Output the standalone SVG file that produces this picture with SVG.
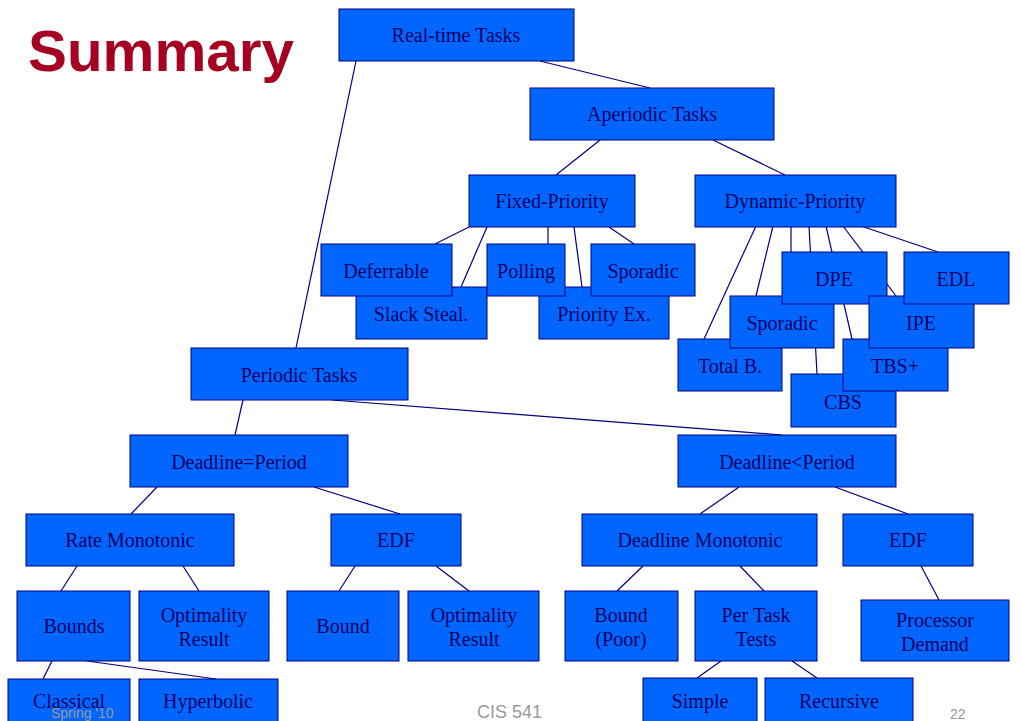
<svg xmlns="http://www.w3.org/2000/svg" width="1021" height="721" viewBox="0 0 1021 721">
  <style>
    .box rect { fill: #0066FF; stroke: #000080; stroke-width: 1; }
    .box text { font-family: "Liberation Serif", "Times New Roman", serif; font-size: 20px; fill: #000066; text-anchor: middle; }
    #connectors line { stroke: #000080; stroke-width: 1.2; }
    .title { font-family: "Liberation Sans", Arial, sans-serif; font-weight: bold; font-size: 58px; fill: #A50021; }
    .foot { font-family: "Liberation Sans", Arial, sans-serif; fill: #999999; }
  </style>
  <rect x="0" y="0" width="1021" height="721" fill="#FFFFFF"/>

  <text class="title" x="28" y="71" textLength="266" lengthAdjust="spacingAndGlyphs">Summary</text>

  <!-- tree edges, drawn beneath the boxes -->
  <g id="connectors">
    <line x1="356" y1="61" x2="296" y2="348"/>
    <line x1="540" y1="61" x2="650" y2="88"/>
    <line x1="600" y1="140" x2="556" y2="175"/>
    <line x1="713" y1="140" x2="785" y2="175"/>
    <!-- fixed priority children -->
    <line x1="469" y1="227" x2="435" y2="244"/>
    <line x1="487" y1="227" x2="461" y2="287"/>
    <line x1="548" y1="227" x2="548" y2="244"/>
    <line x1="574" y1="227" x2="582" y2="287"/>
    <line x1="609" y1="227" x2="634" y2="244"/>
    <!-- dynamic priority children -->
    <line x1="756" y1="226" x2="704" y2="339"/>
    <line x1="773" y1="226" x2="756" y2="296"/>
    <line x1="791" y1="226" x2="791" y2="252"/>
    <line x1="809" y1="226" x2="817" y2="374"/>
    <line x1="826" y1="226" x2="852" y2="339"/>
    <line x1="843" y1="226" x2="896" y2="296"/>
    <line x1="861" y1="226" x2="938" y2="252"/>
    <!-- periodic branch -->
    <line x1="243" y1="400" x2="235" y2="435"/>
    <line x1="332" y1="400" x2="782" y2="435"/>
    <line x1="157" y1="487" x2="131" y2="514"/>
    <line x1="314" y1="487" x2="400" y2="514"/>
    <line x1="739" y1="487" x2="700" y2="514"/>
    <line x1="835" y1="487" x2="908" y2="514"/>
    <line x1="77" y1="566" x2="61" y2="591"/>
    <line x1="183" y1="566" x2="199" y2="591"/>
    <line x1="355" y1="566" x2="339" y2="591"/>
    <line x1="436" y1="566" x2="469" y2="591"/>
    <line x1="643" y1="566" x2="617" y2="591"/>
    <line x1="740" y1="566" x2="764" y2="591"/>
    <line x1="921" y1="566" x2="939" y2="600"/>
    <line x1="52" y1="661" x2="43" y2="679"/>
    <line x1="87" y1="661" x2="216" y2="679"/>
    <line x1="721" y1="661" x2="697" y2="678"/>
    <line x1="792" y1="661" x2="817" y2="678"/>
  </g>

  <g id="realtime" class="box"><rect x="339" y="9" width="235" height="52"/><text x="456" y="42">Real-time Tasks</text></g>
  <g id="aperiodic" class="box"><rect x="530" y="88" width="244" height="52"/><text x="652" y="121">Aperiodic Tasks</text></g>
  <g id="fixed" class="box"><rect x="469" y="175" width="166" height="52"/><text x="552" y="208">Fixed-Priority</text></g>
  <g id="dynamic" class="box"><rect x="695" y="175" width="201" height="52"/><text x="795" y="208">Dynamic-Priority</text></g>

  <g id="slacksteal" class="box"><rect x="356" y="287" width="131" height="52"/><text x="421" y="321">Slack Steal.</text></g>
  <g id="deferrable" class="box"><rect x="321" y="244" width="131" height="52"/><text x="386" y="278">Deferrable</text></g>
  <g id="priorityex" class="box"><rect x="539" y="287" width="130" height="52"/><text x="604" y="321">Priority Ex.</text></g>
  <g id="polling" class="box"><rect x="487" y="244" width="78" height="52"/><text x="526" y="278">Polling</text></g>
  <g id="sporadic-fp" class="box"><rect x="591" y="244" width="104" height="52"/><text x="643" y="278">Sporadic</text></g>

  <g id="totalb" class="box"><rect x="678" y="339" width="104" height="52"/><text x="730" y="373">Total B.</text></g>
  <g id="cbs" class="box"><rect x="791" y="374" width="105" height="53"/><text x="843" y="409">CBS</text></g>
  <g id="tbsplus" class="box"><rect x="843" y="339" width="105" height="52"/><text x="895" y="373">TBS+</text></g>
  <g id="sporadic-dp" class="box"><rect x="730" y="296" width="104" height="52"/><text x="782" y="330">Sporadic</text></g>
  <g id="dpe" class="box"><rect x="782" y="252" width="105" height="52"/><text x="834" y="286">DPE</text></g>
  <g id="ipe" class="box"><rect x="869" y="296" width="105" height="52"/><text x="921" y="330">IPE</text></g>
  <g id="edl" class="box"><rect x="904" y="252" width="105" height="52"/><text x="956" y="286">EDL</text></g>

  <g id="periodic" class="box"><rect x="191" y="348" width="217" height="52"/><text x="299" y="382">Periodic Tasks</text></g>
  <g id="deq" class="box"><rect x="130" y="435" width="218" height="52"/><text x="239" y="469">Deadline=Period</text></g>
  <g id="dlt" class="box"><rect x="678" y="435" width="218" height="52"/><text x="787" y="469">Deadline&lt;Period</text></g>

  <g id="rm" class="box"><rect x="26" y="514" width="208" height="52"/><text x="130" y="547">Rate Monotonic</text></g>
  <g id="edf-1" class="box"><rect x="331" y="514" width="130" height="52"/><text x="396" y="547">EDF</text></g>
  <g id="dm" class="box"><rect x="582" y="514" width="235" height="52"/><text x="700" y="547">Deadline Monotonic</text></g>
  <g id="edf-2" class="box"><rect x="843" y="514" width="130" height="52"/><text x="908" y="547">EDF</text></g>

  <g id="bounds" class="box"><rect x="17" y="591" width="113" height="70"/><text x="74" y="633">Bounds</text></g>
  <g id="opt-1" class="box"><rect x="139" y="591" width="130" height="70"/><text x="204" y="622">Optimality</text><text x="204" y="646">Result</text></g>
  <g id="bound" class="box"><rect x="287" y="591" width="112" height="70"/><text x="343" y="633">Bound</text></g>
  <g id="opt-2" class="box"><rect x="408" y="591" width="131" height="70"/><text x="474" y="622">Optimality</text><text x="474" y="646">Result</text></g>
  <g id="boundpoor" class="box"><rect x="565" y="591" width="113" height="70"/><text x="621" y="622">Bound</text><text x="621" y="646">(Poor)</text></g>
  <g id="pertask" class="box"><rect x="695" y="591" width="122" height="70"/><text x="756" y="622">Per Task</text><text x="756" y="646">Tests</text></g>
  <g id="procdemand" class="box"><rect x="861" y="600" width="148" height="61"/><text x="935" y="627">Processor</text><text x="935" y="651">Demand</text></g>

  <g id="classical" class="box"><rect x="8" y="679" width="122" height="52"/><text x="69" y="708">Classical</text></g>
  <g id="hyperbolic" class="box"><rect x="139" y="679" width="139" height="52"/><text x="208" y="708">Hyperbolic</text></g>
  <g id="simple" class="box"><rect x="643" y="678" width="114" height="53"/><text x="700" y="708">Simple</text></g>
  <g id="recursive" class="box"><rect x="765" y="678" width="148" height="53"/><text x="839" y="708">Recursive</text></g>

  <text class="foot" x="51" y="718" font-size="14">Spring '10</text>
  <text class="foot" x="477" y="718" font-size="18">CIS 541</text>
  <text class="foot" x="950" y="719" font-size="14">22</text>
</svg>
